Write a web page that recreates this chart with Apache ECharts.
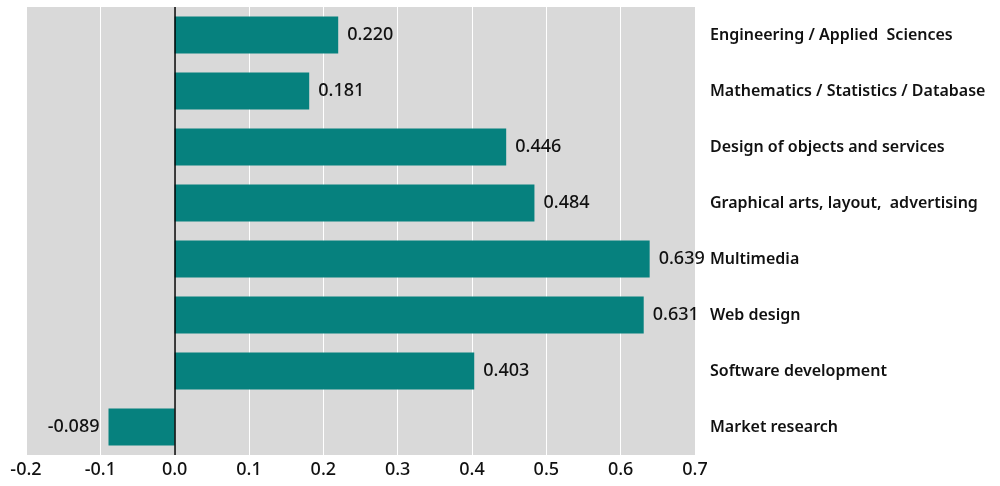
<!DOCTYPE html>
<html><head><meta charset="utf-8">
<script src="https://cdn.jsdelivr.net/npm/echarts@6/dist/echarts.min.js"></script>
<style>html,body{margin:0;padding:0;background:#fff}#c{width:1000px;height:486px}</style>
</head><body><div id="c"></div>
<script>
const categories = ["Engineering / Applied  Sciences","Mathematics / Statistics / Database","Design of objects and services","Graphical arts, layout,  advertising","Multimedia","Web design","Software development","Market research"];
const values = [0.220, 0.181, 0.446, 0.484, 0.639, 0.631, 0.403, -0.089];
const xTicks = [-0.2, -0.1, 0.0, 0.1, 0.2, 0.3, 0.4, 0.5, 0.6, 0.7];

const FONT = 'Noto Sans';
const chart = echarts.init(document.getElementById('c'), null, {renderer:'canvas'});
chart.setOption({
  animation:false,
  grid:{left:26, right:305, top:7, bottom:31, show:true, backgroundColor:'#d9d9d9', borderWidth:0},
  xAxis:{type:'value', min:xTicks[0], max:xTicks[xTicks.length-1], interval:0.1,
    axisLine:{show:false}, axisTick:{show:false},
    splitLine:{show:true, lineStyle:{color:'#ffffff', width:1}},
    axisLabel:{color:'#111', fontFamily:FONT, fontWeight:500, fontSize:18, margin:6, formatter:v=>v.toFixed(1)}},
  yAxis:{type:'category', data:categories, inverse:true, position:'right',
    axisLine:{show:false}, axisTick:{show:false}, splitLine:{show:false},
    axisLabel:{color:'#111', fontFamily:FONT, fontWeight:600, fontSize:16, margin:15, align:'left'}},
  series:[{type:'bar', barCategoryGap:'34%', itemStyle:{color:'#06817e'},
    data:values.map(v=>v<0?{value:v,label:{position:'left'}}:v),
    label:{show:true, fontFamily:FONT, fontWeight:500, fontSize:18, color:'#111', distance:9,
      position:'right', formatter:p=>p.value.toFixed(3)},
    markLine:{silent:true, symbol:'none', label:{show:false}, lineStyle:{color:'#000', type:'solid', width:1.5},
      data:[{xAxis:0}]}
  }]
});
</script></body></html>
